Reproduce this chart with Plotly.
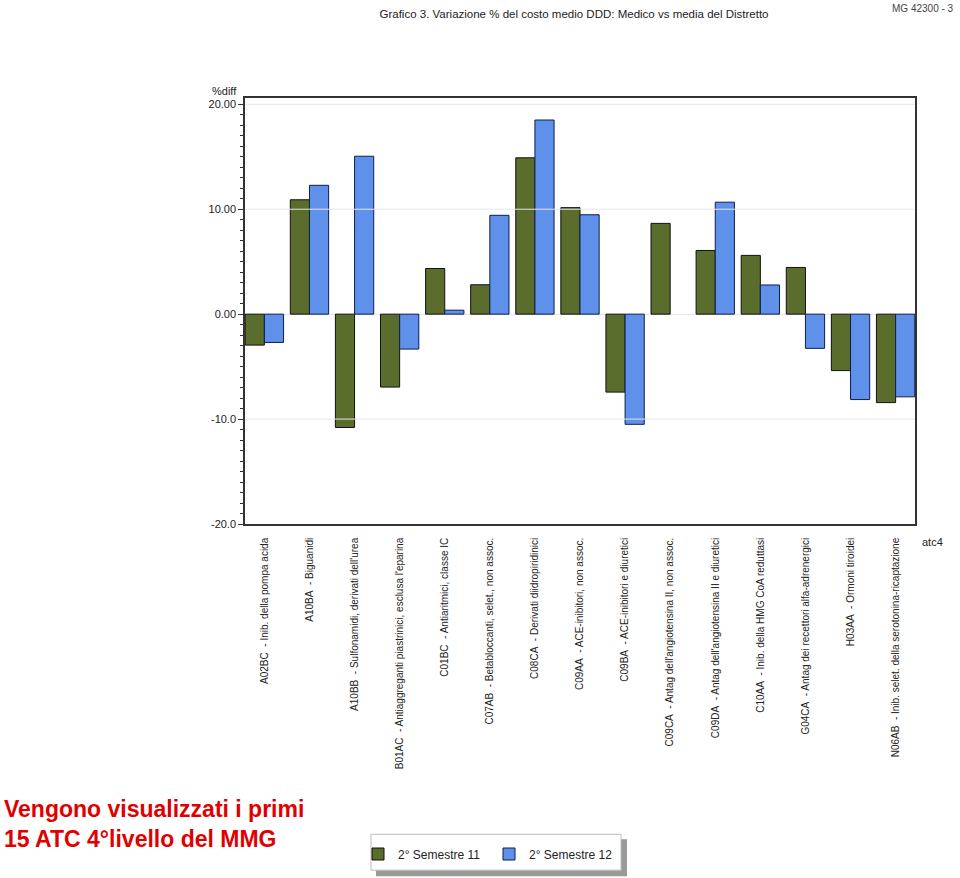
import plotly.graph_objects as go

NB = "\u00a0"

codes = ["A02BC", "A10BA", "A10BB", "B01AC", "C01BC", "C07AB", "C08CA", "C09AA",
         "C09BA", "C09CA", "C09DA", "C10AA", "G04CA", "H03AA", "N06AB"]
descr = ["Inib. della pompa acida",
         "Biguanidi",
         "Sulfonamidi, derivati dell'urea",
         "Antiaggreganti piastrinici, esclusa l'eparina",
         "Antiaritmici, classe IC",
         "Betabloccanti, selet., non assoc.",
         "Derivati diidropiridinici",
         "ACE-inibitori, non assoc.",
         "ACE-inibitori e diuretici",
         "Antag dell'angiotensina II, non assoc.",
         "Antag dell'angiotensina II e diuretici",
         "Inib. della HMG CoA reduttasi",
         "Antag dei recettori alfa-adrenergici",
         "Ormoni tiroidei",
         "Inib. selet. della serotonina-ricaptazione"]

sem11 = [-2.95, 10.9, -10.8, -6.95, 4.35, 2.8, 14.9, 10.15, -7.43, 8.65, 6.07, 5.6, 4.45, -5.38, -8.43]
sem12 = [-2.7, 12.28, 15.05, -3.33, 0.38, 9.42, 18.5, 9.47, -10.5, None, 10.67, 2.78, -3.26, -8.14, -7.88]

ytick_vals = [-20, -10, 0, 10, 20]
ytick_text = ["-20.0", "-10.0", "0.00", "10.00", "20.00"]
grid_vals = [20, 10, -10]

categories = [c + NB * 2 + "- " + d for c, d in zip(codes, descr)]

FONT = "Liberation Sans, Arial, sans-serif"

fig = go.Figure()
fig.add_trace(go.Bar(x=categories, y=sem11, name="2° Semestre 11",
                     marker=dict(color="#5a6d2d", line=dict(color="#111111", width=1))))
fig.add_trace(go.Bar(x=categories, y=sem12, name="2° Semestre 12",
                     marker=dict(color="#5f90ea", line=dict(color="#0d1f4d", width=1))))

for v in grid_vals:
    fig.add_shape(type="line", xref="paper", x0=0, x1=1, yref="y", y0=v, y1=v,
                  line=dict(color="#e6e6e6", width=1), layer="above")

# legend box with shadow
fig.add_shape(type="rect", xref="paper", yref="paper",
              x0=(376 - 245) / 670, x1=(627 - 245) / 670,
              y0=(525 - 878) / 427, y1=(525 - 841) / 427,
              fillcolor="#9a9a9a", line=dict(width=0), layer="above")
fig.add_shape(type="rect", xref="paper", yref="paper",
              x0=(371 - 245) / 670, x1=(621 - 245) / 670,
              y0=(525 - 872) / 427, y1=(525 - 836) / 427,
              fillcolor="white", line=dict(color="#bbbbbb", width=1), layer="above")

fig.update_layout(
    width=960, height=878,
    margin=dict(l=245, r=45, t=98, b=353),
    paper_bgcolor="white", plot_bgcolor="white",
    font=dict(family=FONT, color="#222222", size=11),
    barmode="group", bargap=0.15, bargroupgap=0,
    showlegend=True,
    legend=dict(orientation="h", x=(358 - 245) / 670, xanchor="left",
                y=(525 - 854) / 427, yanchor="middle",
                bgcolor="rgba(0,0,0,0)", borderwidth=0,
                font=dict(size=12, color="#222222"),
                itemwidth=30, entrywidth=86, entrywidthmode="pixels"),
    title=dict(text="Grafico 3. Variazione % del costo medio DDD: Medico vs media del Distretto",
               x=574 / 960, xanchor="center", y=1 - 14 / 878, yanchor="middle",
               xref="container", yref="container",
               font=dict(size=11.5, color="#222222", family=FONT)),
)

fig.update_xaxes(type="category", range=[-0.43, 14.43], showline=True, linecolor="#333333",
                 linewidth=1.5, mirror=True, ticks="", tickangle=-90,
                 tickfont=dict(size=10, color="#222222"), ticklabelstandoff=8,
                 showgrid=False, zeroline=False)
fig.update_yaxes(range=[-20, 20.6], tickmode="array", tickvals=ytick_vals, ticktext=ytick_text,
                 ticks="outside", ticklen=5, tickcolor="#333333", tickwidth=1,
                 minor=dict(tickmode="linear", tick0=0, dtick=1, ticks="outside", ticklen=3,
                            tickcolor="#333333", showgrid=False),
                 showline=True, linecolor="#333333", linewidth=1.5, mirror=True,
                 showgrid=False, zeroline=True, zerolinecolor="#e6e6e6", zerolinewidth=1,
                 tickfont=dict(size=11, color="#222222"))

fig.add_annotation(text="%diff", xref="paper", yref="paper", x=(239 - 245) / 670, y=(525 - 91) / 427,
                   xanchor="right", yanchor="middle", showarrow=False, font=dict(size=11))
fig.add_annotation(text="atc4", xref="paper", yref="paper", x=(920 - 245) / 670, y=(525 - 543) / 427,
                   xanchor="left", yanchor="middle", showarrow=False, font=dict(size=11))
fig.add_annotation(text="MG 42300 - 3", xref="paper", yref="paper", x=(956 - 245) / 670, y=(525 - 1) / 427,
                   xanchor="right", yanchor="top", showarrow=False, font=dict(size=10, color="#444444"))
fig.add_annotation(text="<b>Vengono visualizzati i primi<br>15 ATC 4°livello del MMG</b>",
                   xref="paper", yref="paper", x=(2 - 245) / 670, y=(525 - 826) / 427,
                   xanchor="left", yanchor="middle", align="left", showarrow=False,
                   font=dict(size=23, color="#e00000", family=FONT))

fig.write_html("out.html", post_script="document.body.style.margin='0';",
               config={"displayModeBar": False})
